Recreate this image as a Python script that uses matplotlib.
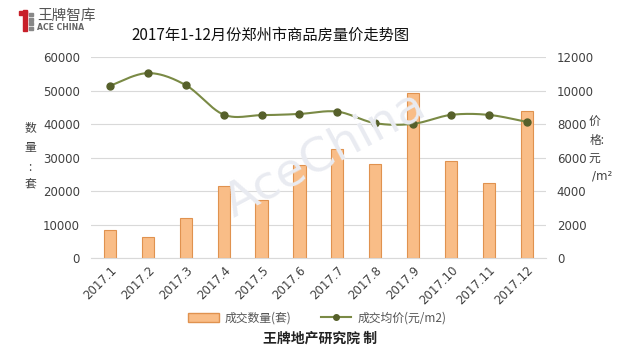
import numpy as np
import matplotlib
matplotlib.use("Agg")
import matplotlib.pyplot as plt
from matplotlib.patches import Patch, Rectangle
from matplotlib.lines import Line2D

plt.rcParams['font.family'] = ['Noto Sans CJK SC', 'DejaVu Sans']

months = ["2017.1", "2017.2", "2017.3", "2017.4", "2017.5", "2017.6",
          "2017.7", "2017.8", "2017.9", "2017.10", "2017.11", "2017.12"]
volume = [8300, 6300, 12000, 21400, 17300, 27900, 32400, 28000, 49200, 28900, 22300, 43900]
price = [10280, 11040, 10320, 8560, 8530, 8600, 8740, 8050, 8010, 8545, 8545, 8125]
left_ticks = [0, 10000, 20000, 30000, 40000, 50000, 60000]
right_ticks = [0, 2000, 4000, 6000, 8000, 10000, 12000]

bar_face = "#F9BD87"
bar_edge = "#E0924F"
line_col = "#7A8A45"
marker_col = "#56602A"
grid_col = "#D9D9D9"
text_col = "#404040"

fig = plt.figure(figsize=(6.28, 3.59), dpi=100)

# watermark
fig.text(325 / 628, 1 - 155 / 359, "AceChina", fontsize=34, color="#E9EBF1", rotation=28,
         ha='center', va='center', family='DejaVu Sans', zorder=0)

ax = fig.add_axes([0.145, 0.2813, 0.724, 0.5599])
ax.patch.set_alpha(0)
x = np.arange(len(months))
ax.bar(x, volume, width=0.32, color=bar_face, edgecolor=bar_edge, linewidth=0.8, zorder=2)
ax.set_xlim(-0.5, len(months) - 0.5)
ax.set_ylim(0, 60000)
ax.set_yticks(left_ticks)
ax.set_yticklabels([str(t) for t in left_ticks], fontsize=8.5, color=text_col, family='DejaVu Sans')
ax.grid(axis='y', color=grid_col, linewidth=0.8, zorder=0)
ax.set_axisbelow(True)
for s in ['top', 'right', 'left']:
    ax.spines[s].set_visible(False)
ax.spines['bottom'].set_color(grid_col)
ax.tick_params(axis='both', length=0, pad=8)
ax.set_xticks(x)
ax.set_xticklabels(months, rotation=45, ha='right', rotation_mode='anchor',
                   fontsize=8.5, color=text_col, family='DejaVu Sans')
ax.tick_params(axis='x', pad=4)

ax2 = ax.twinx()
ax2.set_ylim(0, 12000)
ax2.set_yticks(right_ticks)
ax2.set_yticklabels([str(t) for t in right_ticks], fontsize=8.5, color=text_col, family='DejaVu Sans')
ax2.tick_params(axis='y', length=0, pad=8)
for s in ['top', 'right', 'left', 'bottom']:
    ax2.spines[s].set_visible(False)

# Catmull-Rom smoothing for the line rendering (Excel smoothed line)
p = np.array(price, dtype=float)
px = x.astype(float)
P = np.concatenate([[p[0]], p, [p[-1]]])
X = np.concatenate([[px[0]], px, [px[-1]]])
sx, sy = [], []
for i in range(1, len(P) - 2):
    t = np.linspace(0, 1, 25)
    for arr, out in ((X, sx), (P, sy)):
        p0, p1, p2, p3 = arr[i - 1], arr[i], arr[i + 1], arr[i + 2]
        out.extend(0.5 * ((2 * p1) + (-p0 + p2) * t + (2 * p0 - 5 * p1 + 4 * p2 - p3) * t ** 2
                          + (-p0 + 3 * p1 - 3 * p2 + p3) * t ** 3))
ax2.plot(sx, sy, color=line_col, linewidth=1.5, zorder=3)
ax2.plot(px, p, linestyle='none', marker='o', markersize=5, color=marker_col, zorder=4)

# title
fig.text(0.43, 1 - 35 / 359, "2017年1-12月份郑州市商品房量价走势图", fontsize=11,
         ha='center', va='center', color="#111111")

# logo
fig.patches.append(Rectangle((23 / 628, 1 - 31 / 359), 4 / 628, 21 / 359, transform=fig.transFigure,
                             color="#C8202A"))
fig.patches.append(Rectangle((19 / 628, 1 - 15 / 359), 8 / 628, 4 / 359, transform=fig.transFigure,
                             color="#C8202A"))
for k in range(4):
    fig.patches.append(Rectangle((29 / 628, 1 - (16 + 4.5 * k) / 359), 4 / 628, 3 / 359,
                                 transform=fig.transFigure, color="#888888"))
fig.text(37 / 628, 1 - 16 / 359, "王牌智库", fontsize=10.5, color="#555555", ha='left', va='center')
fig.text(37 / 628, 1 - 28 / 359, "ACE CHINA", fontsize=5.6, color="#666666", ha='left', va='center',
         family='DejaVu Sans', fontweight='bold')

# axis labels
for yy, ch in zip([128, 148, 167, 185], ["数", "量", ":", "套"]):
    fig.text(30 / 628, 1 - yy / 359, ch, fontsize=8.5, color=text_col, ha='center', va='center')
fig.text(594 / 628, 1 - 122 / 359, "价", fontsize=8.5, color=text_col, ha='center', va='center')
fig.text(597 / 628, 1 - 140 / 359, "格:", fontsize=8.5, color=text_col, ha='center', va='center')
fig.text(594 / 628, 1 - 158 / 359, "元", fontsize=8.5, color=text_col, ha='center', va='center')
fig.text(602 / 628, 1 - 176 / 359, "/m²", fontsize=8.5, color=text_col, ha='center', va='center',
         family='DejaVu Sans')

# legend
handles = [Patch(facecolor=bar_face, edgecolor=bar_edge, label="成交数量(套)"),
           Line2D([0], [0], color=line_col, linewidth=1.5, marker='o', markersize=4,
                  markerfacecolor=marker_col, markeredgecolor=marker_col, label="成交均价(元/m2)")]
leg = fig.legend(handles=handles, loc='center', bbox_to_anchor=(0.505, 1 - 318 / 359), ncol=2,
                 frameon=False, fontsize=8.5, handlelength=2.6, columnspacing=2.5, handletextpad=0.5)
for t in leg.get_texts():
    t.set_color("#555555")

fig.text(0.51, 1 - 339 / 359, "王牌地产研究院 制", fontsize=10, fontweight='bold',
         ha='center', va='center', color="#222222")

fig.savefig("out.png", dpi=100)
